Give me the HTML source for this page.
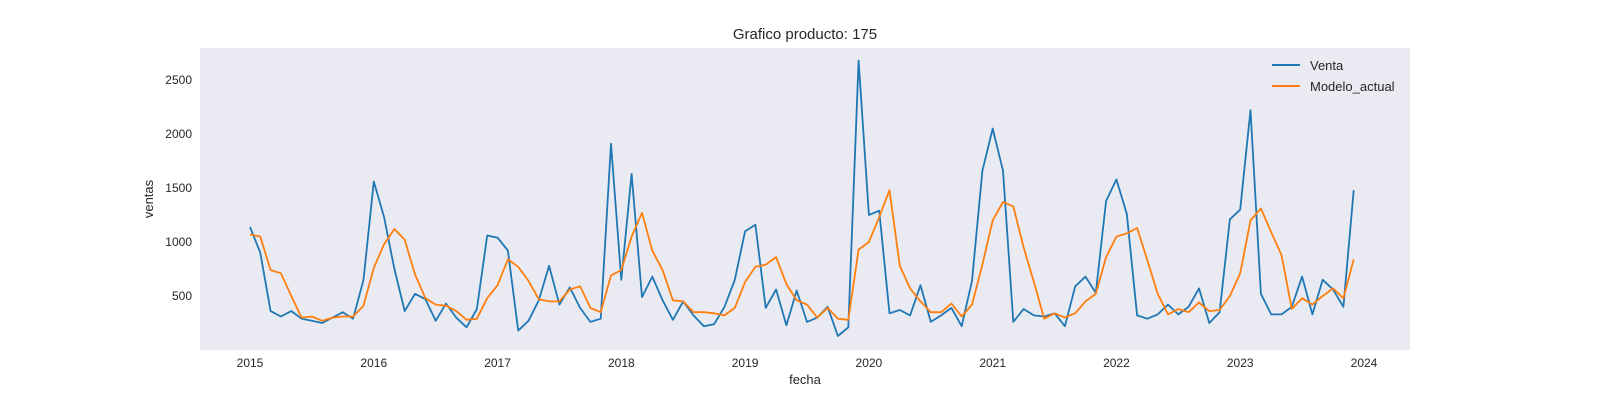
<!DOCTYPE html>
<html><head><meta charset="utf-8"><style>
body{margin:0;background:#fff;font-family:"Liberation Sans",sans-serif;}
svg text{font-family:"Liberation Sans",sans-serif;fill:#262626;}
</style></head><body>
<svg id="chart" width="1600" height="400">
<rect x="200" y="48" width="1210" height="302" fill="#EAEAF2"/>
<text x="805" y="39" font-size="15" text-anchor="middle">Grafico producto: 175</text>
<text x="805" y="384" font-size="13" text-anchor="middle">fecha</text>
<text x="153" y="199" font-size="13" text-anchor="middle" transform="rotate(-90 153 199)">ventas</text>
<g id="xt"></g>
<g id="yt"></g>
<g id="series"></g>
<g>
<line x1="1272" y1="65" x2="1300" y2="65" stroke="#1f77b4" stroke-width="2"/>
<text x="1310" y="70" font-size="13">Venta</text>
<line x1="1272" y1="86" x2="1300" y2="86" stroke="#ff7f0e" stroke-width="2"/>
<text x="1310" y="91" font-size="13">Modelo_actual</text>
</g>
</svg>
<script>
const yearTicks=[2015,2016,2017,2018,2019,2020,2021,2022,2023,2024];
const yTicks=[500,1000,1500,2000,2500];
const venta=[1140,900,360,310,360,290,270,250,300,350,290,650,
1560,1230,750,360,520,470,270,430,300,210,380,1060,
1040,920,180,270,460,780,420,580,390,260,290,1910,
650,1630,490,680,460,280,450,320,220,240,400,650,
1100,1160,390,560,230,550,260,300,400,130,210,2680,
1250,1290,340,370,320,600,260,320,390,220,640,1660,
2050,1660,260,380,320,310,340,220,590,680,530,1380,
1580,1260,320,290,330,420,330,400,570,250,350,1210,
1300,2220,520,330,330,400,680,330,650,560,400,1480];
const modelo=[1070,1050,740,710,500,300,310,270,300,310,310,410,
760,980,1120,1020,700,480,420,410,360,280,290,480,
600,840,770,640,470,450,450,560,590,390,350,690,
740,1050,1270,920,740,460,450,350,350,340,320,390,
630,770,790,860,610,460,420,300,390,290,280,930,
1000,1230,1480,780,570,450,350,350,430,310,420,790,
1200,1370,1330,950,630,290,340,300,340,450,520,860,
1050,1080,1130,830,520,330,380,350,440,360,370,500,
710,1200,1310,1090,880,380,480,420,500,570,480,840];
const NS="http://www.w3.org/2000/svg";
function xs(t){return 250+(t-2015)*(1364-250)/9;}
function ys(v){return 350-v*0.108;}
const xt=document.getElementById('xt'),yt=document.getElementById('yt'),sg=document.getElementById('series');
yearTicks.forEach(y=>{const t=document.createElementNS(NS,'text');


t.setAttribute('x',xs(y));t.setAttribute('y',367);t.setAttribute('font-size','12');t.setAttribute('text-anchor','middle');t.textContent=y;xt.appendChild(t);});
yTicks.forEach(v=>{const t=document.createElementNS(NS,'text');


t.setAttribute('x',192);t.setAttribute('y',ys(v)+4);t.setAttribute('font-size','12');t.setAttribute('text-anchor','end');t.textContent=v;yt.appendChild(t);});
function line(arr,color,name){const p=document.createElementNS(NS,'polyline');


p.setAttribute('points',arr.map((v,i)=>xs(2015+i/12).toFixed(1)+','+ys(v).toFixed(1)).join(' '));
p.setAttribute('fill','none');p.setAttribute('stroke',color);p.setAttribute('stroke-width','1.8');p.setAttribute('stroke-linejoin','round');sg.appendChild(p);}
line(venta,'#1f77b4','venta-line');
line(modelo,'#ff7f0e','modelo-actual-line');
</script>
</body></html>
